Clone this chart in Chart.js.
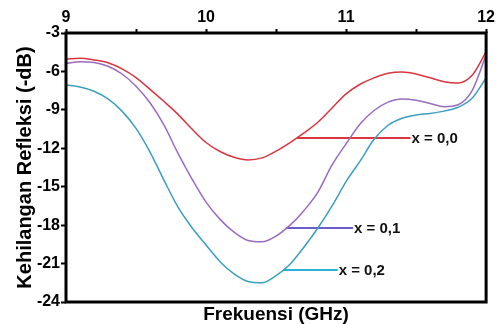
<!DOCTYPE html>
<html>
<head>
<meta charset="utf-8">
<script src="https://cdn.jsdelivr.net/npm/chart.js@4.4.1/dist/chart.umd.min.js"></script>
<style>
  html, body { margin: 0; padding: 0; background: #fff; }
  #wrap { width: 497px; height: 324px; }
</style>
</head>
<body>
<div id="wrap"><canvas id="lossChart"></canvas></div>
<script>
// frequency grid (GHz) and reflection loss (dB)
const freqs = [9.0, 9.1, 9.2, 9.3, 9.4, 9.5, 9.6, 9.7, 9.8, 9.9, 10.0, 10.1, 10.2, 10.3, 10.4, 10.5,
  10.6, 10.7, 10.8, 10.9, 11.0, 11.1, 11.2, 11.3, 11.4, 11.5, 11.6, 11.7, 11.8, 11.9, 12.0];
const lossX00 = [-5.05, -4.97, -5.10, -5.32, -5.80, -6.48, -7.40, -8.35, -9.35, -10.50, -11.55, -12.25, -12.70, -12.91, -12.75, -12.22,
  -11.55, -10.80, -9.95, -8.85, -7.75, -7.00, -6.50, -6.15, -6.05, -6.20, -6.50, -6.80, -6.90, -6.30, -4.48];
const lossX01 = [-5.37, -5.25, -5.30, -5.60, -6.20, -7.15, -8.45, -10.20, -12.40, -14.40, -16.20, -17.55, -18.55, -19.20, -19.30, -18.85,
  -18.00, -16.85, -15.40, -13.30, -11.65, -10.10, -9.05, -8.40, -8.15, -8.25, -8.50, -8.75, -8.60, -7.50, -4.72];
const lossX02 = [-7.06, -7.22, -7.55, -8.15, -9.10, -10.45, -12.30, -14.50, -16.60, -18.20, -19.55, -20.85, -21.80, -22.40, -22.50, -21.95,
  -21.05, -19.70, -18.20, -16.50, -14.60, -13.00, -11.30, -10.20, -9.65, -9.40, -9.28, -9.10, -8.80, -8.10, -6.51];

// callout lines: [start freq, end freq], level
const seriesNames = ['x = 0,0', 'x = 0,1', 'x = 0,2'];
const calloutFrom = [10.65, 10.57, 10.55];
const calloutTo = [11.46, 11.05, 10.94];
const calloutLevel = [-11.2, -18.22, -21.5];

const curveColors = ['#d9363f', '#9a6cc0', '#3b9fbf'];
const calloutColors = ['#d9363f', '#6a5cc9', '#2cb0dc'];

const FONT = '"Liberation Sans", Arial, sans-serif';

const toPoints = arr => arr.map((v, i) => ({ x: freqs[i], y: v }));

const datasets = [lossX00, lossX01, lossX02].map((arr, i) => ({
  label: seriesNames[i],
  data: toPoints(arr),
  borderColor: curveColors[i],
  borderWidth: 1.5,
  pointRadius: 0,
  cubicInterpolationMode: 'monotone',
  fill: false
}));

seriesNames.forEach((name, i) => {
  datasets.push({
    label: name + ' callout',
    data: [{ x: calloutFrom[i], y: calloutLevel[i] }, { x: calloutTo[i], y: calloutLevel[i] }],
    borderColor: calloutColors[i],
    borderWidth: 2,
    pointRadius: 0,
    fill: false
  });
});

const framePlugin = {
  id: 'frame',
  afterDatasetsDraw(chart) {
    const { ctx, chartArea: a, scales } = chart;
    ctx.save();
    // callout text
    ctx.fillStyle = '#111';
    ctx.font = 'bold 15px ' + FONT;
    ctx.textAlign = 'left';
    ctx.textBaseline = 'middle';
    seriesNames.forEach((name, i) => {
      ctx.fillText(name, scales.x.getPixelForValue(calloutTo[i]) + 1, scales.y.getPixelForValue(calloutLevel[i]) + 1);
    });
    // box
    ctx.strokeStyle = '#000';
    ctx.lineWidth = 3;
    ctx.strokeRect(a.left, a.top, a.right - a.left, a.bottom - a.top);
    ctx.restore();
  }
};

const ctx = document.getElementById('lossChart').getContext('2d');
const lossChart = new Chart(ctx, {
  type: 'line',
  data: { datasets },
  options: {
    responsive: true,
    maintainAspectRatio: false,
    animation: false,
    layout: { padding: { right: 8, top: 0, left: 0, bottom: 0 } },
    plugins: {
      legend: { display: false },
      tooltip: { enabled: false },
      title: {
        display: true,
        position: 'bottom',
        fullSize: false,
        text: 'Frekuensi (GHz)',
        color: '#000',
        font: { family: FONT, size: 19, weight: 'bold', lineHeight: 1 },
        padding: { top: 3, bottom: 0 }
      }
    },
    scales: {
      x: {
        type: 'linear',
        position: 'top',
        min: 9,
        max: 12,
        border: { display: false },
        grid: { drawOnChartArea: false, drawTicks: true, tickLength: 4, tickWidth: 2, tickColor: '#000' },
        ticks: {
          stepSize: 0.5,
          autoSkip: false,
          maxRotation: 0,
          padding: 2,
          color: '#000',
          font: { family: FONT, size: 16, weight: 'bold' },
          callback: v => (Number.isInteger(v) ? String(v) : '')
        },
        afterFit: s => { s.height = 33; }
      },
      y: {
        min: -24,
        max: -3,
        border: { display: false },
        grid: { drawOnChartArea: false, drawTicks: true, tickLength: 5, tickWidth: 2, tickColor: '#000' },
        ticks: {
          stepSize: 3,
          padding: 1,
          color: '#000',
          font: { family: FONT, size: 16, weight: 'bold' },
          callback: v => String(v)
        },
        title: {
          display: true,
          text: 'Kehilangan Refleksi (-dB)',
          color: '#000',
          font: { family: FONT, size: 20, weight: 'bold', lineHeight: 1 },
          padding: { top: 15, bottom: 0 }
        },
        afterFit: s => { s.width = 66; }
      }
    }
  },
  plugins: [framePlugin]
});
</script>
</body>
</html>
